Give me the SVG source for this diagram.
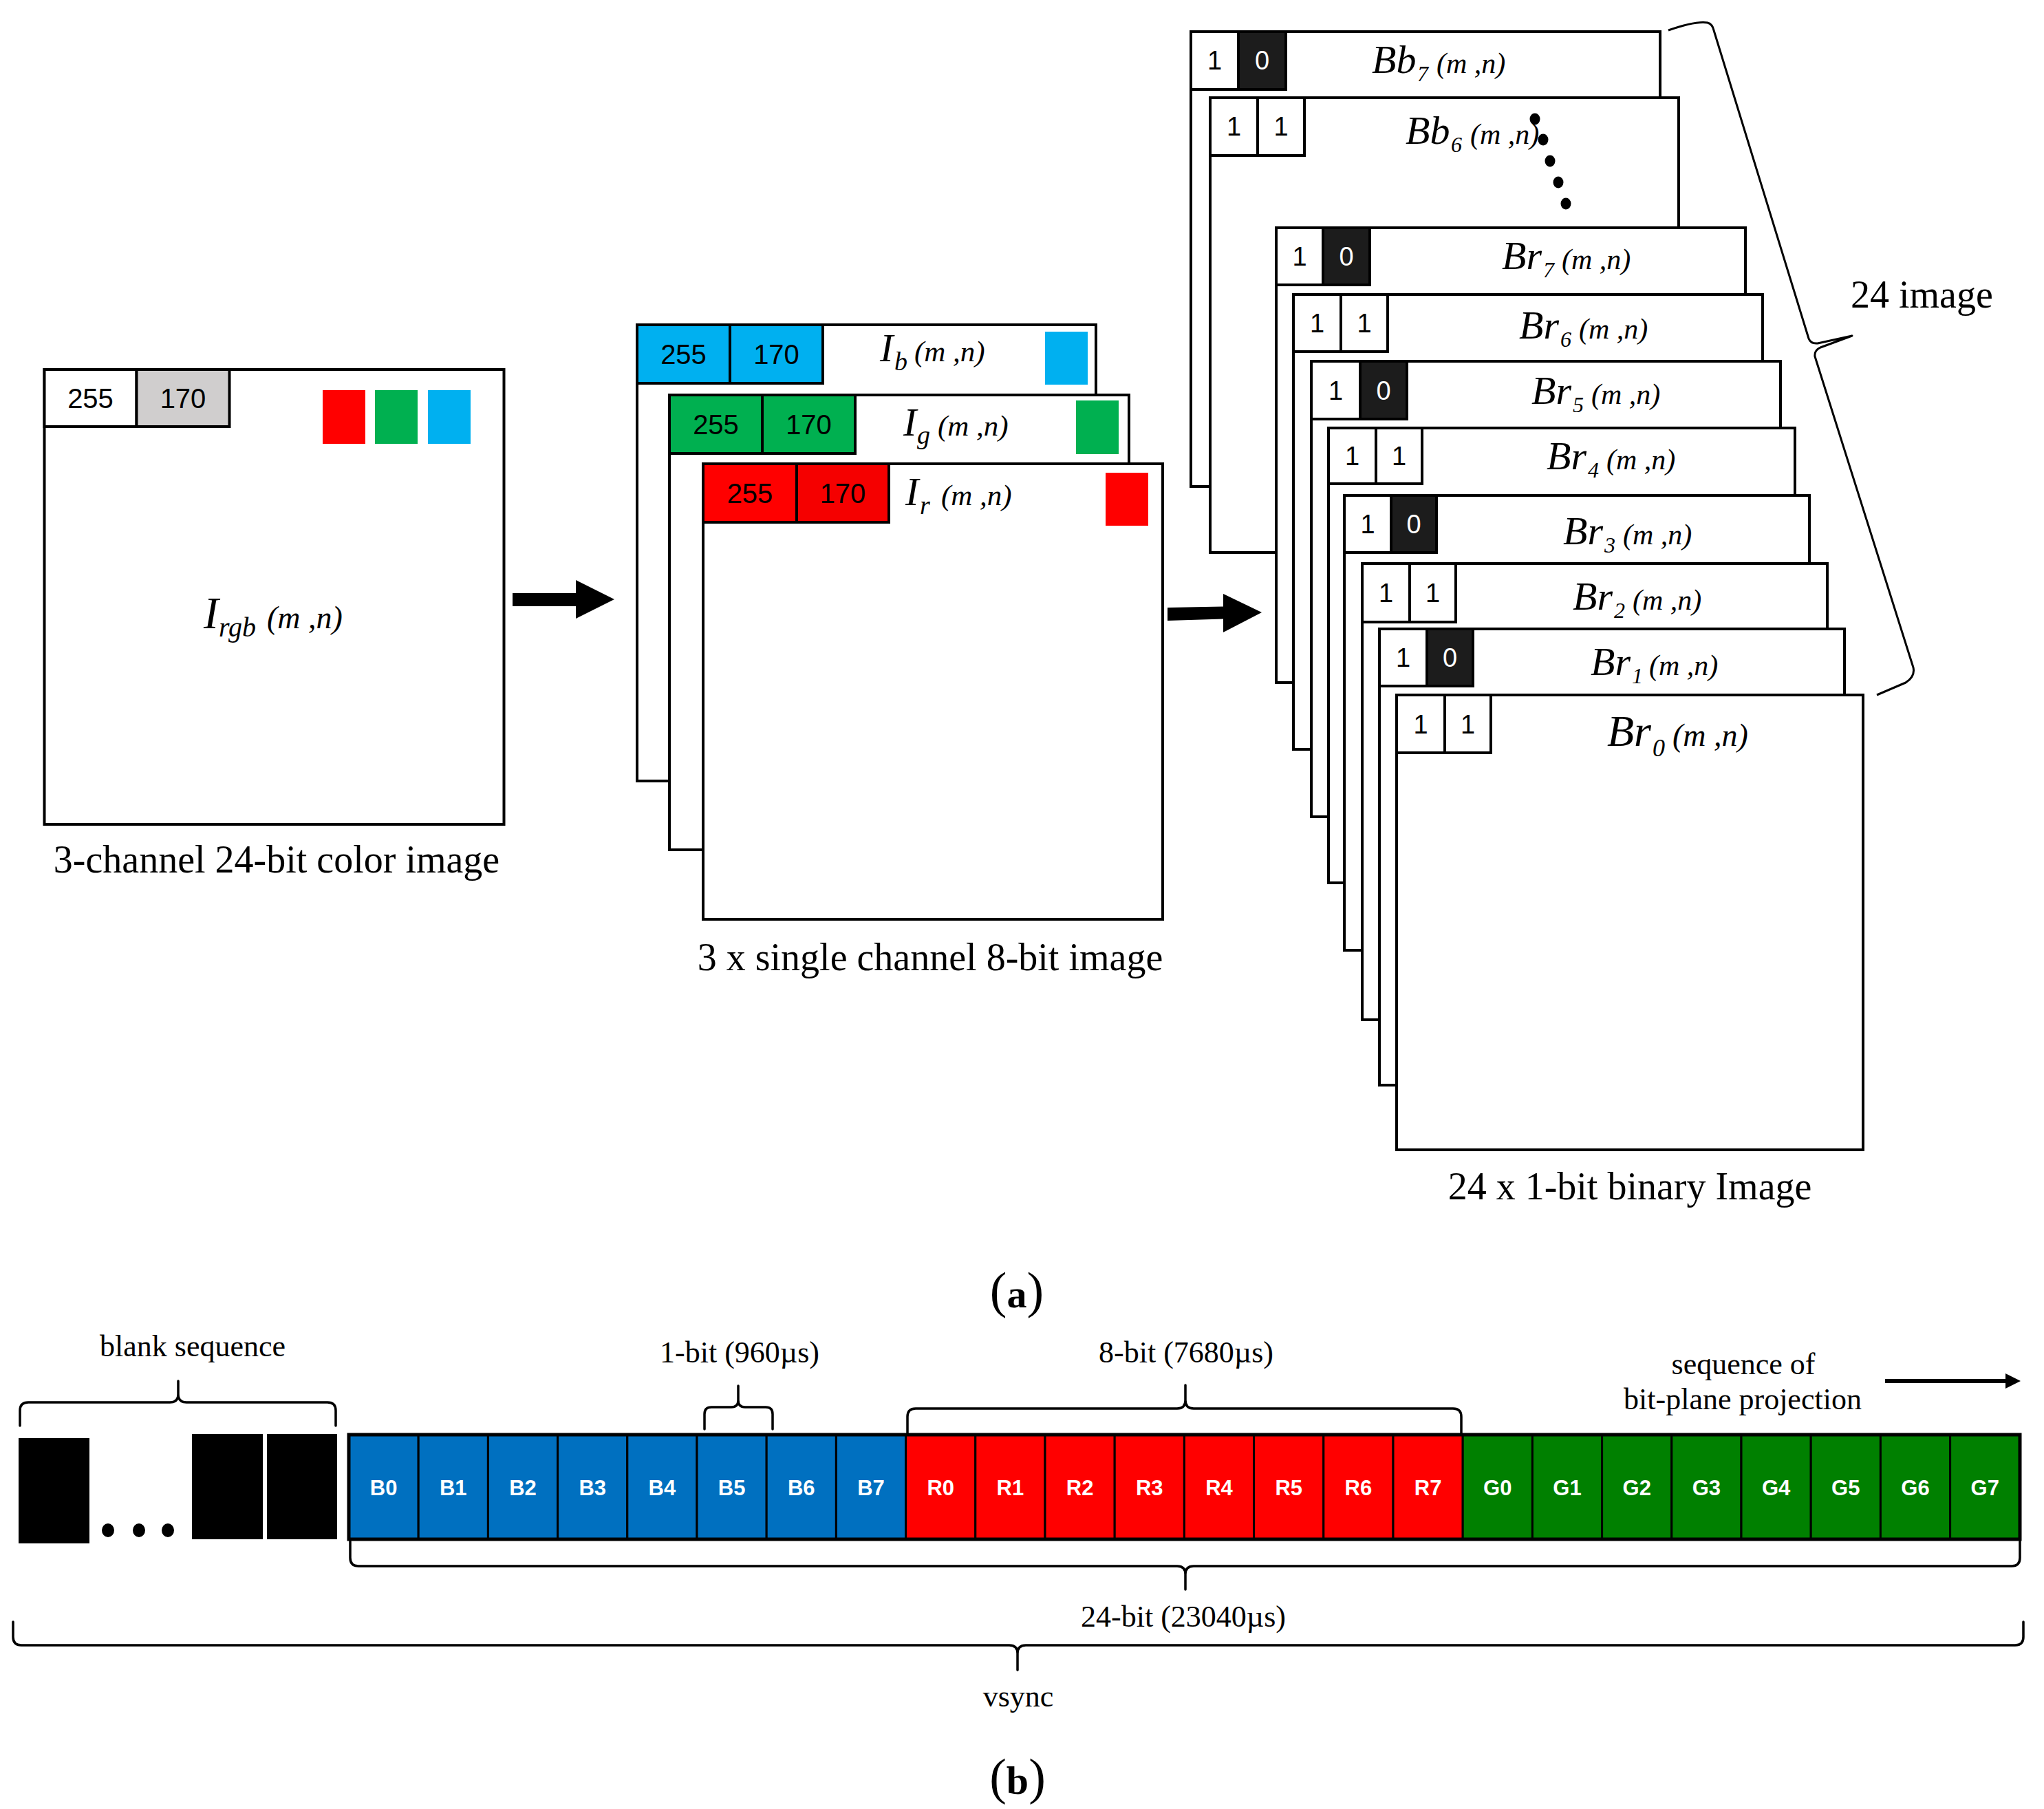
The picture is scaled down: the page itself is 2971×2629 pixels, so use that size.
<svg xmlns="http://www.w3.org/2000/svg" width="2971" height="2629" viewBox="0 0 2971 2629">
<style>
.frame{fill:#fff;stroke:#000;stroke-width:4}
.cell{stroke:#000;stroke-width:4}
.num{font-family:"Liberation Sans",Arial,sans-serif;font-size:40px;text-anchor:middle;fill:#000}
.bit{font-family:"Liberation Sans",Arial,sans-serif;font-size:38px;text-anchor:middle;fill:#000}
.bitw{font-family:"Liberation Sans",Arial,sans-serif;font-size:38px;text-anchor:middle;fill:#fff}
.math{font-family:"Liberation Serif","Times New Roman",serif;font-style:italic;fill:#000}
.cap{font-family:"Liberation Serif","Times New Roman",serif;font-size:56px;text-anchor:middle;fill:#000}
.lbl{font-family:"Liberation Serif","Times New Roman",serif;font-size:44px;text-anchor:middle;fill:#000}
.bl{font-family:"Liberation Sans",Arial,sans-serif;font-weight:bold;font-size:31px;fill:#fff;text-anchor:middle}
.brace{fill:none;stroke:#000;stroke-width:3.5;stroke-linejoin:round;stroke-linecap:round}
.thin{fill:none;stroke:#000;stroke-width:3;stroke-linejoin:round}
.blk{fill:#1c1c1c}
.cb{fill:#0070c0;stroke:#000;stroke-width:3}
.cr{fill:#ff0000;stroke:#000;stroke-width:3}
.cg{fill:#008000;stroke:#000;stroke-width:3}
</style>

<!-- Left: 3-channel image -->
<g id="rgb-image">
  <rect class="frame" x="64.5" y="537" width="668" height="661"/>
  <rect class="cell" x="64.5" y="537" width="134" height="83" fill="#fff"/>
  <rect class="cell" x="198.5" y="537" width="135" height="83" fill="#d0cece"/>
  <text class="num" x="131.5" y="593">255</text>
  <text class="num" x="266" y="593">170</text>
  <rect x="469" y="567" width="62" height="78" fill="#ff0000"/>
  <rect x="545" y="567" width="62" height="78" fill="#00b050"/>
  <rect x="622" y="567" width="62" height="78" fill="#00b0f0"/>
  <text class="math"><tspan x="296" y="913" font-size="65">I</tspan><tspan x="318" y="925" font-size="40">rgb</tspan><tspan x="388" y="913" font-size="46">(m ,n)</tspan></text>
  <text class="cap" x="402" y="1268">3-channel 24-bit color image</text>
</g>

<!-- Middle: 3 single channel images -->
<g id="ch-b">
  <rect class="frame" x="926" y="472" width="667" height="663"/>
  <rect class="cell" x="926" y="472" width="135" height="85" fill="#00b0f0"/>
  <rect class="cell" x="1061" y="472" width="135" height="85" fill="#00b0f0"/>
  <text class="num" x="993.5" y="529">255</text>
  <text class="num" x="1128.5" y="529">170</text>
  <rect x="1519" y="482" width="62" height="77" fill="#00b0f0"/>
  <text class="math"><tspan x="1279" y="525" font-size="58">I</tspan><tspan x="1300" y="538" font-size="38">b</tspan><tspan x="1329" y="525" font-size="43">(m ,n)</tspan></text>
</g>
<g id="ch-g">
  <rect class="frame" x="973" y="574" width="668" height="661"/>
  <rect class="cell" x="973" y="574" width="135" height="85" fill="#00b050"/>
  <rect class="cell" x="1108" y="574" width="135" height="85" fill="#00b050"/>
  <text class="num" x="1040.5" y="631">255</text>
  <text class="num" x="1175.5" y="631">170</text>
  <rect x="1564" y="582" width="62" height="78" fill="#00b050"/>
  <text class="math"><tspan x="1313" y="633" font-size="58">I</tspan><tspan x="1333" y="645" font-size="38">g</tspan><tspan x="1363" y="633" font-size="43">(m ,n)</tspan></text>
</g>
<g id="ch-r">
  <rect class="frame" x="1022" y="674" width="668" height="662"/>
  <rect class="cell" x="1022" y="674" width="136" height="85" fill="#ff0000"/>
  <rect class="cell" x="1158" y="674" width="134" height="85" fill="#f50000"/>
  <text class="num" x="1090" y="731">255</text>
  <text class="num" x="1225" y="731">170</text>
  <rect x="1607" y="687" width="62" height="77" fill="#ff0000"/>
  <text class="math"><tspan x="1316" y="734" font-size="58">I</tspan><tspan x="1337" y="747" font-size="38">r</tspan><tspan x="1368" y="734" font-size="43">(m ,n)</tspan></text>
  <text class="cap" x="1352" y="1410">3 x single channel 8-bit image</text>
</g>

<!-- Right: 24 binary images -->
<g id="bb7">
  <rect class="frame" x="1731" y="46" width="682" height="661"/>
  <rect class="cell" x="1731" y="46" width="69" height="84" fill="#fff"/>
  <rect class="cell blk" x="1800" y="46" width="69" height="84"/>
  <text class="bit" x="1765.5" y="101">1</text><text class="bitw" x="1834.5" y="101">0</text>
  <text class="math"><tspan x="1994" y="106" font-size="58">Bb</tspan><tspan x="2060" y="118" font-size="32">7</tspan><tspan x="2088" y="106" font-size="42">(m ,n)</tspan></text>
</g>
<g id="bb6">
  <rect class="frame" x="1759" y="142" width="681" height="661"/>
  <rect class="cell" x="1759" y="142" width="69" height="84" fill="#fff"/>
  <rect class="cell" x="1828" y="142" width="68" height="84" fill="#fff"/>
  <text class="bit" x="1793.5" y="197">1</text><text class="bit" x="1862" y="197">1</text>
  <text class="math"><tspan x="2043" y="209" font-size="58">Bb</tspan><tspan x="2109" y="221" font-size="32">6</tspan><tspan x="2137" y="209" font-size="42">(m ,n)</tspan></text>
  <ellipse cx="2231" cy="173" rx="7.5" ry="8.5"/>
  <ellipse cx="2243" cy="203" rx="7.5" ry="8.5"/>
  <ellipse cx="2253" cy="234" rx="7.5" ry="8.5"/>
  <ellipse cx="2265" cy="265" rx="7.5" ry="8.5"/>
  <ellipse cx="2276" cy="296" rx="7.5" ry="8.5"/>
</g>
<g id="br7">
  <rect class="frame" x="1855" y="331" width="682" height="661"/>
  <rect class="cell" x="1855" y="331" width="68" height="83" fill="#fff"/>
  <rect class="cell blk" x="1923" y="331" width="68" height="83"/>
  <text class="bit" x="1889" y="386">1</text><text class="bitw" x="1957" y="386">0</text>
  <text class="math"><tspan x="2183" y="391" font-size="58">Br</tspan><tspan x="2243" y="403" font-size="32">7</tspan><tspan x="2270" y="391" font-size="42">(m ,n)</tspan></text>
</g>
<g id="br6">
  <rect class="frame" x="1880" y="428" width="682" height="661"/>
  <rect class="cell" x="1880" y="428" width="69" height="83" fill="#fff"/>
  <rect class="cell" x="1949" y="428" width="68" height="83" fill="#fff"/>
  <text class="bit" x="1914.5" y="483">1</text><text class="bit" x="1983" y="483">1</text>
  <text class="math"><tspan x="2208" y="492" font-size="58">Br</tspan><tspan x="2268" y="504" font-size="32">6</tspan><tspan x="2295" y="492" font-size="42">(m ,n)</tspan></text>
</g>
<g id="br5">
  <rect class="frame" x="1906" y="525" width="682" height="662"/>
  <rect class="cell" x="1906" y="525" width="71" height="84" fill="#fff"/>
  <rect class="cell blk" x="1977" y="525" width="68" height="84"/>
  <text class="bit" x="1941.5" y="581">1</text><text class="bitw" x="2011" y="581">0</text>
  <text class="math"><tspan x="2226" y="587" font-size="58">Br</tspan><tspan x="2286" y="599" font-size="32">5</tspan><tspan x="2313" y="587" font-size="42">(m ,n)</tspan></text>
</g>
<g id="br4">
  <rect class="frame" x="1931" y="622" width="678" height="661"/>
  <rect class="cell" x="1931" y="622" width="69" height="81" fill="#fff"/>
  <rect class="cell" x="2000" y="622" width="67" height="81" fill="#fff"/>
  <text class="bit" x="1965.5" y="676">1</text><text class="bit" x="2033.5" y="676">1</text>
  <text class="math"><tspan x="2248" y="682" font-size="58">Br</tspan><tspan x="2308" y="694" font-size="32">4</tspan><tspan x="2335" y="682" font-size="42">(m ,n)</tspan></text>
</g>
<g id="br3">
  <rect class="frame" x="1954" y="720" width="676" height="661"/>
  <rect class="cell" x="1954" y="720" width="68" height="83" fill="#fff"/>
  <rect class="cell blk" x="2022" y="720" width="66" height="83"/>
  <text class="bit" x="1988" y="775">1</text><text class="bitw" x="2055" y="775">0</text>
  <text class="math"><tspan x="2272" y="791" font-size="58">Br</tspan><tspan x="2332" y="803" font-size="32">3</tspan><tspan x="2359" y="791" font-size="42">(m ,n)</tspan></text>
</g>
<g id="br2">
  <rect class="frame" x="1980" y="819" width="676" height="663"/>
  <rect class="cell" x="1980" y="819" width="69" height="85" fill="#fff"/>
  <rect class="cell" x="2049" y="819" width="67" height="85" fill="#fff"/>
  <text class="bit" x="2014.5" y="875">1</text><text class="bit" x="2082.5" y="875">1</text>
  <text class="math"><tspan x="2286" y="886" font-size="58">Br</tspan><tspan x="2346" y="898" font-size="32">2</tspan><tspan x="2373" y="886" font-size="42">(m ,n)</tspan></text>
</g>
<g id="br1">
  <rect class="frame" x="2005" y="914" width="676" height="663"/>
  <rect class="cell" x="2005" y="914" width="69" height="83" fill="#fff"/>
  <rect class="cell blk" x="2074" y="914" width="67" height="83"/>
  <text class="bit" x="2039.5" y="969">1</text><text class="bitw" x="2107.5" y="969">0</text>
  <text class="math"><tspan x="2312" y="981" font-size="58">Br</tspan><tspan x="2372" y="993" font-size="32">1</tspan><tspan x="2397" y="981" font-size="42">(m ,n)</tspan></text>
</g>
<g id="br0">
  <rect class="frame" x="2030" y="1010" width="678" height="661"/>
  <rect class="cell" x="2030" y="1010" width="70" height="84" fill="#fff"/>
  <rect class="cell" x="2100" y="1010" width="67" height="84" fill="#fff"/>
  <text class="bit" x="2065" y="1066">1</text><text class="bit" x="2133.5" y="1066">1</text>
  <text class="math"><tspan x="2336" y="1084" font-size="64">Br</tspan><tspan x="2402" y="1099" font-size="36">0</tspan><tspan x="2431" y="1084" font-size="46">(m ,n)</tspan></text>
  <text class="cap" x="2369" y="1743">24 x 1-bit binary Image</text>
</g>
<g id="count-label">
  <text class="cap" x="2690" y="447" style="text-anchor:start">24 image</text>
</g>

<text class="cap" x="1478" y="1900"><tspan font-size="74">(</tspan><tspan font-weight="bold" font-size="58">a</tspan><tspan font-size="74">)</tspan></text>

<!-- Part (b) -->
<g id="blank-sequence">
  <rect x="27" y="2090" width="103" height="153" fill="#000"/>
  <rect x="279" y="2084" width="103" height="153" fill="#000"/>
  <rect x="388" y="2084" width="102" height="153" fill="#000"/>
  <ellipse cx="157" cy="2224" rx="9" ry="10"/>
  <ellipse cx="202" cy="2224" rx="9" ry="10"/>
  <ellipse cx="244" cy="2224" rx="9" ry="10"/>
  <text class="lbl" x="280" y="1971">blank sequence</text>
</g>
<g id="bitplane-bar">
  <rect class="cb" x="507" y="2085" width="101.2" height="152"/>
  <rect class="cb" x="608.2" y="2085" width="101.2" height="152"/>
  <rect class="cb" x="709.4" y="2085" width="101.2" height="152"/>
  <rect class="cb" x="810.6" y="2085" width="101.2" height="152"/>
  <rect class="cb" x="911.8" y="2085" width="101.2" height="152"/>
  <rect class="cb" x="1013" y="2085" width="101.2" height="152"/>
  <rect class="cb" x="1114.2" y="2085" width="101.2" height="152"/>
  <rect class="cb" x="1215.4" y="2085" width="101.2" height="152"/>
  <rect class="cr" x="1316.6" y="2085" width="101.2" height="152"/>
  <rect class="cr" x="1417.8" y="2085" width="101.2" height="152"/>
  <rect class="cr" x="1519" y="2085" width="101.2" height="152"/>
  <rect class="cr" x="1620.2" y="2085" width="101.2" height="152"/>
  <rect class="cr" x="1721.4" y="2085" width="101.2" height="152"/>
  <rect class="cr" x="1822.6" y="2085" width="101.2" height="152"/>
  <rect class="cr" x="1923.8" y="2085" width="101.2" height="152"/>
  <rect class="cr" x="2025" y="2085" width="101.2" height="152"/>
  <rect class="cg" x="2126.2" y="2085" width="101.2" height="152"/>
  <rect class="cg" x="2227.4" y="2085" width="101.2" height="152"/>
  <rect class="cg" x="2328.6" y="2085" width="101.2" height="152"/>
  <rect class="cg" x="2429.8" y="2085" width="101.2" height="152"/>
  <rect class="cg" x="2531" y="2085" width="101.2" height="152"/>
  <rect class="cg" x="2632.2" y="2085" width="101.2" height="152"/>
  <rect class="cg" x="2733.4" y="2085" width="101.2" height="152"/>
  <rect class="cg" x="2834.6" y="2085" width="101.2" height="152"/>
  <rect x="507" y="2085" width="2429" height="152" fill="none" stroke="#000" stroke-width="5"/>
  <text class="bl" x="557.6" y="2173">B0</text>
  <text class="bl" x="658.8" y="2173">B1</text>
  <text class="bl" x="760" y="2173">B2</text>
  <text class="bl" x="861.2" y="2173">B3</text>
  <text class="bl" x="962.4" y="2173">B4</text>
  <text class="bl" x="1063.6" y="2173">B5</text>
  <text class="bl" x="1164.8" y="2173">B6</text>
  <text class="bl" x="1266" y="2173">B7</text>
  <text class="bl" x="1367.2" y="2173">R0</text>
  <text class="bl" x="1468.4" y="2173">R1</text>
  <text class="bl" x="1569.6" y="2173">R2</text>
  <text class="bl" x="1670.8" y="2173">R3</text>
  <text class="bl" x="1772" y="2173">R4</text>
  <text class="bl" x="1873.2" y="2173">R5</text>
  <text class="bl" x="1974.4" y="2173">R6</text>
  <text class="bl" x="2075.6" y="2173">R7</text>
  <text class="bl" x="2176.8" y="2173">G0</text>
  <text class="bl" x="2278" y="2173">G1</text>
  <text class="bl" x="2379.2" y="2173">G2</text>
  <text class="bl" x="2480.4" y="2173">G3</text>
  <text class="bl" x="2581.6" y="2173">G4</text>
  <text class="bl" x="2682.8" y="2173">G5</text>
  <text class="bl" x="2784" y="2173">G6</text>
  <text class="bl" x="2885.2" y="2173">G7</text>
</g>
<g id="labels-b">
  <text class="lbl" x="1075" y="1980">1-bit (960µs)</text>
  <text class="lbl" x="1724" y="1980">8-bit (7680µs)</text>
  <text class="lbl" x="2534" y="1997">sequence of</text>
  <text class="lbl" x="2533" y="2048">bit-plane projection</text>
  <text class="lbl" x="1720" y="2364">24-bit (23040µs)</text>
  <text class="lbl" x="1480" y="2480">vsync</text>
  <text class="cap" x="1479" y="2607"><tspan font-size="74">(</tspan><tspan font-weight="bold" font-size="58">b</tspan><tspan font-size="74">)</tspan></text>
</g>

<!-- Connectors: arrows and braces -->
<g id="connectors">
  <polygon points="745,862 837,862 837,843 893,871 837,899 837,881 745,881" fill="#000"/>
  <polygon points="1697,883 1778,881.5 1778,863 1834,890 1778,919 1778,899.5 1697,902" fill="#000"/>
  <polygon points="2740,2004 2915,2004 2915,1996 2937,2007 2915,2018 2915,2010 2740,2010" fill="#000"/>
  <path class="thin" d="M2425,44 Q2465,30 2482,33 Q2489,35 2491,44 L2629,492 Q2632,500 2642,499 L2692,488 L2646,505 Q2637,509 2638,518 L2781,970 Q2784,983 2770,992 L2728,1010"/>
  <path class="brace" d="M29,2072 L29,2050 Q29,2038 41,2038 L247,2038 Q259,2038 259,2026 L259,2007 M259,2026 Q259,2038 271,2038 L476,2038 Q488,2038 488,2050 L488,2072"/>
  <path class="brace" d="M1024,2077 L1024,2055 Q1024,2045 1034,2045 L1063,2045 Q1073,2045 1073,2035 L1073,2014 M1073,2035 Q1073,2045 1083,2045 L1113,2045 Q1123,2045 1123,2055 L1123,2077"/>
  <path class="brace" d="M1319,2083 L1319,2059 Q1319,2047 1331,2047 L1711,2047 Q1723,2047 1723,2035 L1723,2013 M1723,2035 Q1723,2047 1735,2047 L2112,2047 Q2124,2047 2124,2059 L2124,2083"/>
  <path class="brace" d="M509,2240 L509,2264 Q509,2276 521,2276 L1711,2276 Q1723,2276 1723,2288 L1723,2310 M1723,2288 Q1723,2276 1735,2276 L2924,2276 Q2936,2276 2936,2264 L2936,2240"/>
  <path class="brace" d="M19,2357 L19,2379 Q19,2391 31,2391 L1467,2391 Q1479,2391 1479,2403 L1479,2427 M1479,2403 Q1479,2391 1491,2391 L2929,2391 Q2941,2391 2941,2379 L2941,2357"/>
</g>
</svg>
